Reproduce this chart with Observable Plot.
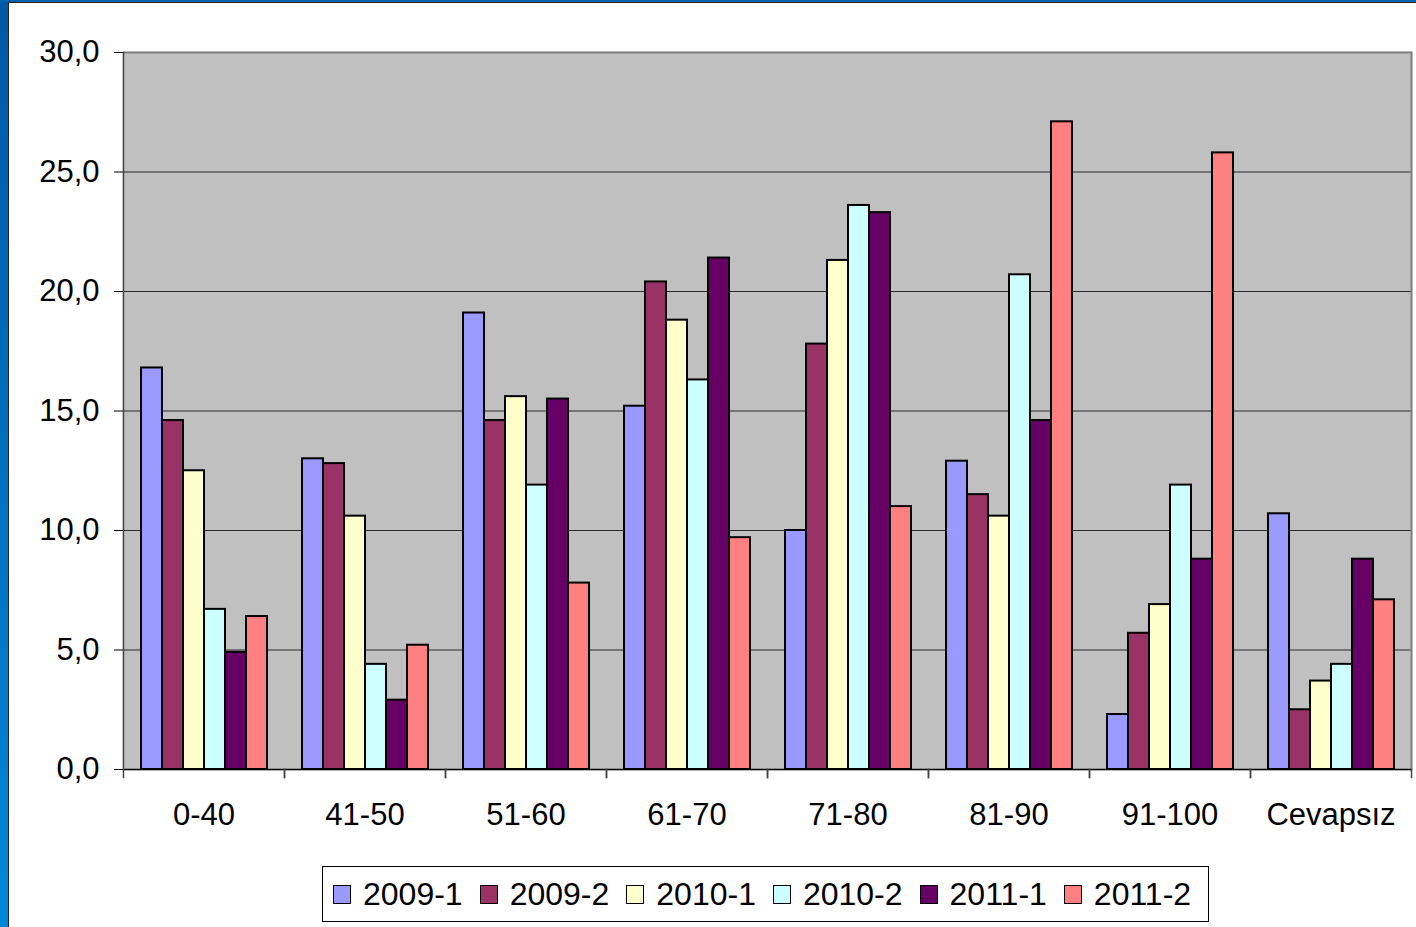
<!DOCTYPE html>
<html>
<head>
<meta charset="utf-8">
<script src="https://cdn.jsdelivr.net/npm/d3@7"></script>
<script src="https://cdn.jsdelivr.net/npm/@observablehq/plot@0.6"></script>
<style>
  html, body { margin: 0; padding: 0; background: #ffffff; }
  #page { position: relative; width: 1416px; height: 927px; overflow: hidden; background: #ffffff; }
  #blueLeft { position: absolute; left: 0; top: 0; width: 8px; height: 927px; background: linear-gradient(#0058a6, #0088d8); }
  #blueTop { position: absolute; left: 0; top: 0; width: 1416px; height: 2px; background: #0060aa; }
  #lineLeft { position: absolute; left: 8px; top: 2px; width: 1px; height: 925px; background: #222; }
  #lineTop { position: absolute; left: 8px; top: 2px; width: 1408px; height: 1px; background: #222; }
  #chart { position: absolute; left: 9px; top: 3px; }
  #legend { position: absolute; left: 322px; top: 866px; width: 875px; height: 54px; border: 1px solid #000; background: #fff;
    padding-left: 10px; display: flex; align-items: center; justify-content: flex-start; gap: 17px;
    font-family: "Liberation Sans", Arial, sans-serif; font-size: 32px; color: #000; }
  .item { display: flex; align-items: center; }
  .sw { width: 16px; height: 17px; border: 1.5px solid #000; margin-right: 12px; }
</style>
</head>
<body>
<div id="page">
  <div id="blueLeft"></div>
  <div id="blueTop"></div>
  <div id="lineLeft"></div>
  <div id="lineTop"></div>
  <div id="chart"></div>
  <div id="legend"></div>
</div>
<script>
const categories = ["0-40", "41-50", "51-60", "61-70", "71-80", "81-90", "91-100", "Cevapsız"];
const seriesNames = ["2009-1", "2009-2", "2010-1", "2010-2", "2011-1", "2011-2"];
const v2009_1 = [16.8, 13.0, 19.1, 15.2, 10.0, 12.9, 2.3, 10.7];
const v2009_2 = [14.6, 12.8, 14.6, 20.4, 17.8, 11.5, 5.7, 2.5];
const v2010_1 = [12.5, 10.6, 15.6, 18.8, 21.3, 10.6, 6.9, 3.7];
const v2010_2 = [6.7, 4.4, 11.9, 16.3, 23.6, 20.7, 11.9, 4.4];
const v2011_1 = [4.9, 2.9, 15.5, 21.4, 23.3, 14.6, 8.8, 8.8];
const v2011_2 = [6.4, 5.2, 7.8, 9.7, 11.0, 27.1, 25.8, 7.1];
const seriesValues = [v2009_1, v2009_2, v2010_1, v2010_2, v2011_1, v2011_2];
const colors = ["#9999FF", "#993366", "#FFFFCC", "#CCFFFF", "#660066", "#FF8080"];
const yTicks = [0, 5, 10, 15, 20, 25, 30];

const rows = categories.flatMap((c, i) => seriesNames.map((s, j) => ({cat: c, series: s, value: seriesValues[j][i]})));

const W = 1407, H = 847, mT = 49, mB = 81, mL = 114, mR = 5;
const innerH = H - mT - mB;
const fmt = d => d.toFixed(1).replace(".", ",");

const plot = Plot.plot({
  width: W, height: H,
  marginTop: mT, marginBottom: mB, marginLeft: mL, marginRight: mR,
  style: {fontFamily: "Liberation Sans, Arial, sans-serif", fontSize: "31px", color: "#000", background: "transparent", overflow: "visible"},
  fx: {domain: categories, padding: 0, label: null},
  x: {domain: seriesNames, paddingInner: 0, paddingOuter: 0.66, axis: null},
  y: {domain: [0, 30], label: null},
  color: {domain: seriesNames, range: colors},
  marks: [
    Plot.frame({fill: "#C0C0C0", stroke: "#C0C0C0", strokeWidth: 1.5}),
    Plot.ruleY([5, 10, 15, 20, 25], {stroke: "#2a2a2a", strokeWidth: 1.2}),
    Plot.ruleY([30], {stroke: "#808080", strokeWidth: 2}),
    Plot.frame({anchor: "right", stroke: "#808080", strokeWidth: 2, facetAnchor: "right"}),
    Plot.barY(rows, {fx: "cat", x: "series", y: "value", fill: "series", stroke: "#000", strokeWidth: 2}),
    Plot.ruleY([0], {stroke: "#000", strokeWidth: 1.5}),
    Plot.frame({anchor: "left", stroke: "#444", strokeWidth: 1.5, facetAnchor: "left"}),
    Plot.frame({anchor: "left", stroke: "#444", strokeWidth: 1.5, insetTop: innerH, insetBottom: -8}),
    Plot.frame({anchor: "right", stroke: "#444", strokeWidth: 1.5, insetTop: innerH, insetBottom: -8}),
    Plot.axisY(yTicks, {tickSize: 9, tickPadding: 15, tickFormat: fmt, stroke: "#000", fontSize: 31}),
    Plot.axisFx({anchor: "bottom", tickSize: 0, tickPadding: 33, fontSize: 31, label: null})
  ]
});
document.getElementById("chart").appendChild(plot);

const legend = d3.select("#legend");
seriesNames.forEach((s, i) => {
  const item = legend.append("div").attr("class", "item");
  item.append("div").attr("class", "sw").style("background", colors[i]);
  item.append("span").text(s);
});
</script>
</body>
</html>
